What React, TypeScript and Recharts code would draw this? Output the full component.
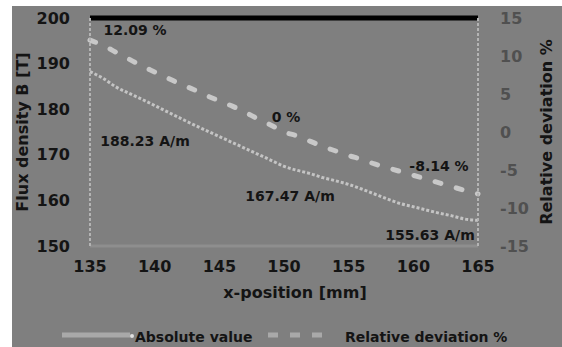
import React from "react";
import {
  LineChart,
  Line,
  XAxis,
  YAxis,
  ReferenceLine,
  ReferenceDot,
  Legend,
  Label,
} from "recharts";

// x-position in mm
const positions = [
  135, 136, 137, 138, 139, 140, 141, 142, 143, 144, 145, 146, 147, 148, 149, 150,
  151, 152, 153, 154, 155, 156, 157, 158, 159, 160, 161, 162, 163, 164, 165,
];

const absoluteValue = [
  188.23, 186.8, 184.9, 183.5, 182.2, 180.8, 179.4, 178.0, 176.6, 175.3, 174.0,
  172.7, 171.4, 170.1, 168.8, 167.47, 166.6, 165.9, 165.0, 164.3, 163.5, 162.5,
  161.4, 160.3, 159.3, 158.6, 157.9, 157.2, 156.6, 155.9, 155.63,
];

const relativeDeviation = [
  12.09, 11.4, 10.5, 9.6, 8.7, 7.9, 7.1, 6.3, 5.6, 4.8, 4.1, 3.4, 2.6, 1.7, 0.9,
  0, -0.5, -1.2, -1.9, -2.5, -3.1, -3.6, -4.2, -4.7, -5.2, -5.7, -6.2, -6.7, -7.2,
  -7.7, -8.14,
];

const xTicks = [135, 140, 145, 150, 155, 160, 165];
const fluxTicks = [150, 160, 170, 180, 190, 200];
const deviationTicks = [-15, -10, -5, 0, 5, 10, 15];

const data = positions.map((x, i) => ({
  x,
  abs: absoluteValue[i],
  rel: relativeDeviation[i],
}));

const FONT = "'DejaVu Sans', sans-serif";
const INK = "#141414";

// text placed at an offset from a reference point
const tagAt = (text: string, dx: number, dy: number) => (props: any) => {
  const vb = props.viewBox || {};
  const cx = (vb.x || 0) + (vb.width || 0) / 2;
  const cy = (vb.y || 0) + (vb.height || 0) / 2;
  return (
    <text
      x={cx + dx}
      y={cy + dy}
      textAnchor="middle"
      dominantBaseline="central"
      fontFamily={FONT}
      fontWeight="bold"
      fontSize={14}
      fill={INK}
    >
      {text}
    </text>
  );
};

const axisTitle =
  (text: string, fx: (vb: any) => number, fy: (vb: any) => number, angle: number) =>
  (props: any) => {
    const vb = props.viewBox || {};
    const x = fx(vb);
    const y = fy(vb);
    return (
      <text
        x={x}
        y={y}
        transform={angle ? `rotate(${angle}, ${x}, ${y})` : undefined}
        textAnchor="middle"
        dominantBaseline="central"
        fontFamily={FONT}
        fontWeight="bold"
        fontSize={16}
        fill={INK}
      >
        {text}
      </text>
    );
  };

const renderLegend = () => (
  <svg width={550} height={21} style={{ display: "block" }}>
    <line x1={50} x2={118} y1={9} y2={9} stroke="#a9a9a9" strokeWidth={5} />
    <circle cx={120} cy={10} r={2} fill="#e0e0e0" />
    <text x={123} y={11} dominantBaseline="central" fontFamily={FONT} fontWeight="bold" fontSize={14} fill={INK}>
      Absolute value
    </text>
    <line
      x1={256}
      x2={321}
      y1={9}
      y2={9}
      stroke="#a9a9a9"
      strokeWidth={5}
      strokeDasharray="10 12"
    />
    <text x={333} y={11} dominantBaseline="central" fontFamily={FONT} fontWeight="bold" fontSize={14} fill={INK}>
      Relative deviation %
    </text>
  </svg>
);

const tickStyle = { fill: INK, fontSize: 16, fontWeight: "bold", fontFamily: FONT };

const FluxChart: React.FC = () => {
  return (
    <div style={{ position: "absolute", left: 0, top: 0, width: 562, height: 347, background: "#fff" }}>
      <div style={{ position: "absolute", left: 12, top: 6, width: 550, height: 341, background: "#7f7f7f" }}>
        <LineChart
          width={550}
          height={341}
          data={data}
          margin={{ top: 12, right: 0, bottom: 0, left: 0 }}
        >
          <XAxis
            dataKey="x"
            type="number"
            domain={[135, 165]}
            ticks={xTicks}
            height={80}
            tick={tickStyle}
            tickLine={false}
            tickSize={0}
            tickMargin={15}
            axisLine={{ stroke: "#8e8e8e", strokeWidth: 3 }}
          >
            <Label
              content={axisTitle(
                "x-position [mm]",
                (vb) => vb.x + vb.width / 2 + 11,
                (vb) => vb.y + 46,
                0
              )}
            />
          </XAxis>
          <YAxis
            yAxisId="flux"
            domain={[150, 200]}
            ticks={fluxTicks}
            width={78}
            tick={tickStyle}
            tickLine={false}
            tickSize={0}
            tickMargin={20}
            axisLine={{ stroke: "#b4b4b4", strokeWidth: 2, strokeDasharray: "3 2" }}
          >
            <Label
              content={axisTitle(
                "Flux density B [T]",
                (vb) => vb.x + 10,
                (vb) => vb.y + vb.height / 2,
                -90
              )}
            />
          </YAxis>
          <YAxis
            yAxisId="dev"
            orientation="right"
            domain={[-15, 15]}
            ticks={deviationTicks}
            width={84}
            tick={{ ...tickStyle, fill: "#505050" }}
            tickLine={false}
            tickSize={0}
            tickMargin={22}
            axisLine={{ stroke: "#b4b4b4", strokeWidth: 2, strokeDasharray: "3 2" }}
          >
            <Label
              content={axisTitle(
                "Relative deviation %",
                (vb) => vb.x + 68,
                (vb) => vb.y + vb.height / 2,
                -90
              )}
            />
          </YAxis>
          <ReferenceLine yAxisId="flux" y={200} stroke="#000" strokeWidth={5} />
          <Line
            yAxisId="flux"
            type="monotone"
            dataKey="abs"
            stroke="#c4c4c4"
            strokeWidth={3}
            strokeDasharray="3 2"
            dot={false}
            isAnimationActive={false}
          />
          <Line
            yAxisId="dev"
            type="monotone"
            dataKey="rel"
            stroke="#c8c8c8"
            strokeWidth={5}
            strokeDasharray="6 16"
            strokeLinecap="round"
            dot={false}
            isAnimationActive={false}
          />
          <ReferenceDot yAxisId="dev" x={135} y={12.09} r={1} fill="none" stroke="none" label={tagAt("12.09 %", 45, -10)} />
          <ReferenceDot yAxisId="dev" x={150} y={0} r={1} fill="none" stroke="none" label={tagAt("0 %", 2, -15)} />
          <ReferenceDot yAxisId="dev" x={165} y={-8.14} r={1} fill="none" stroke="none" label={tagAt("-8.14 %", -39, -28)} />
          <ReferenceDot yAxisId="flux" x={135} y={188.23} r={1} fill="none" stroke="none" label={tagAt("188.23 A/m", 55, 69)} />
          <ReferenceDot yAxisId="flux" x={150} y={167.47} r={1} fill="none" stroke="none" label={tagAt("167.47 A/m", 6, 30)} />
          <ReferenceDot yAxisId="flux" x={165} y={155.63} r={1} fill="none" stroke="none" label={tagAt("155.63 A/m", -48, 15)} />
          <Legend
            layout="vertical"
            align="center"
            verticalAlign="bottom"
            content={renderLegend}
            wrapperStyle={{ position: "absolute", left: 0, top: 320, width: 550, height: 21 }}
          />
        </LineChart>
      </div>
    </div>
  );
};

export default function App() {
  return <FluxChart />;
}
